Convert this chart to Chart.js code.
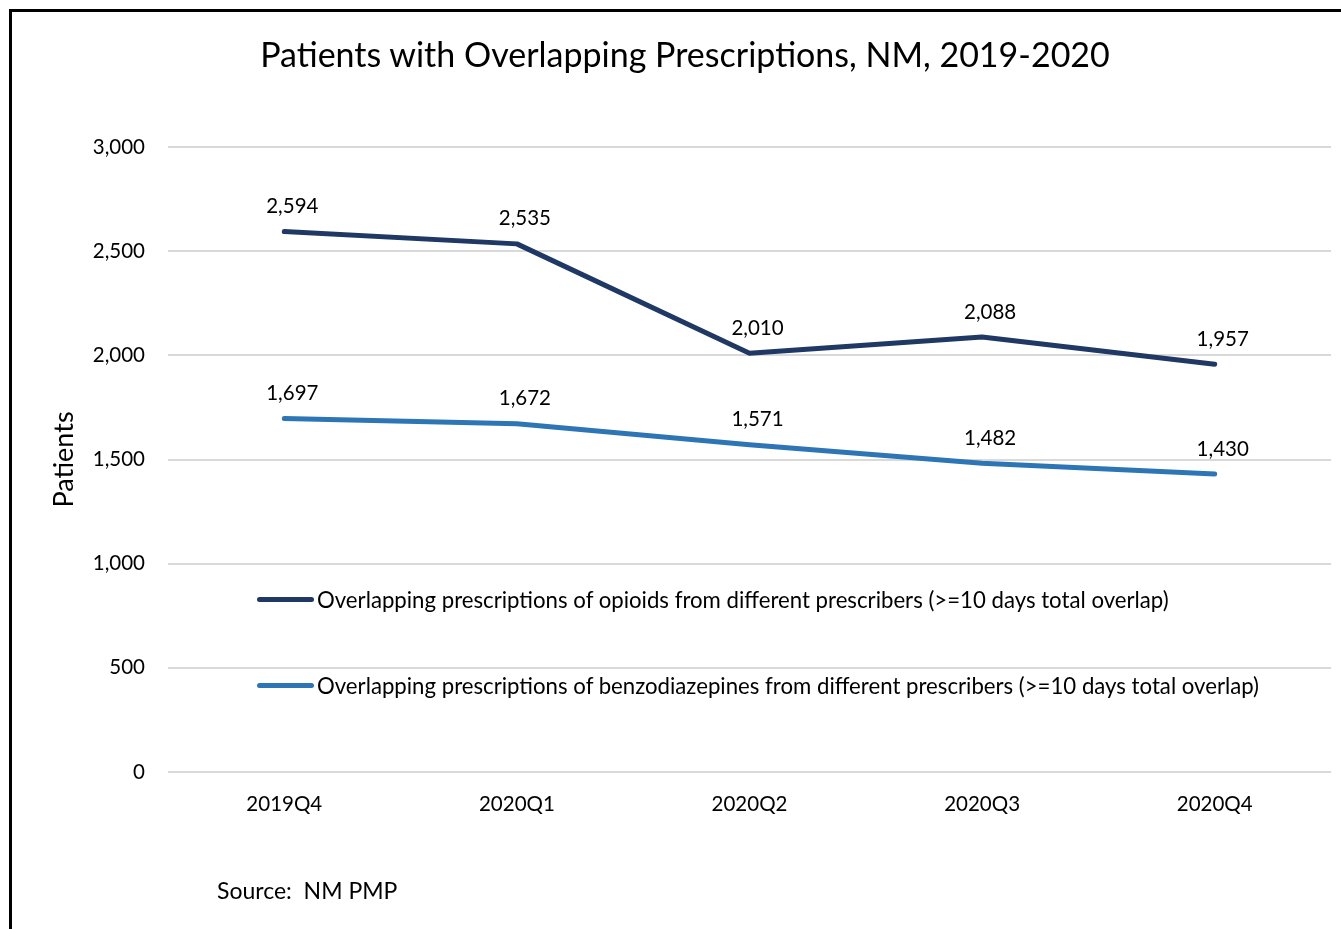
<!DOCTYPE html>
<html>
<head>
<meta charset="utf-8">
<script src="https://cdn.jsdelivr.net/npm/chart.js@4.4.0/dist/chart.umd.min.js"></script>
<style>
    html, body { margin:0; padding:0; background:#fff; }
    body { width:1341px; height:929px; position:relative; overflow:hidden;
           font-family: Lato, "Open Sans", sans-serif; color:#000; }
    #frame { position:absolute; left:9px; top:9px; width:1400px; height:1000px;
             border-left:3px solid #000; border-top:3px solid #000; }
    #wrap { position:absolute; left:0; top:0; width:1341px; height:929px; }
    #title { position:absolute; left:0; width:1370px; top:33px; text-align:center;
             font-size:34px; }
    .leg { position:absolute; left:257px; font-size:22.2px; display:flex; align-items:center; }
    .leg i { display:inline-block; width:57px; height:5px; border-radius:3px; margin-right:3px; }
    #source { position:absolute; left:217px; top:876px; font-size:23px; }
</style>
</head>
<body>
<div id="frame"></div>
<div id="wrap"><canvas id="c" width="1341" height="929"></canvas></div>
<div id="title">Patients with Overlapping Prescriptions, NM, 2019-2020</div>
<div id="legend"></div>
<div id="source">Source:&nbsp; NM PMP</div>
<script>
// ── Data ───────────────────────────────────────
const QUARTERS = ['2019Q4', '2020Q1', '2020Q2', '2020Q3', '2020Q4'];
const OPIOIDS  = [2594, 2535, 2010, 2088, 1957];
const BENZOS   = [1697, 1672, 1571, 1482, 1430];
const SERIES_LABELS = [
    'Overlapping prescriptions of opioids from different prescribers (>=10 days total overlap)',
    'Overlapping prescriptions of benzodiazepines from different prescribers (>=10 days total overlap)',
];
const COLORS = ['#203864', '#2E75B6'];
const FONT = 'Lato, "Open Sans", sans-serif';

const fmt = v => v.toLocaleString('en-US');

// value labels above each point
const valueLabels = {
    id: 'valueLabels',
    afterDatasetsDraw(chart) {
        const ctx = chart.ctx;
        ctx.save();
        ctx.font = `20.5px ${FONT}`;
        ctx.fillStyle = '#000';
        ctx.textAlign = 'center';
        ctx.textBaseline = 'middle';
        chart.data.datasets.forEach((ds, i) => {
            chart.getDatasetMeta(i).data.forEach((pt, j) => {
                ctx.fillText(fmt(ds.data[j]), pt.x + 8, pt.y - 25);
            });
        });
        ctx.restore();
    }
};

new Chart(document.getElementById('c'), {
    type: 'line',
    data: {
        labels: QUARTERS,
        datasets: [OPIOIDS, BENZOS].map((d, i) => ({
            label: SERIES_LABELS[i],
            data: d,
            borderColor: COLORS[i],
            backgroundColor: COLORS[i],
            borderWidth: 5,
            borderCapStyle: 'round',
            borderJoinStyle: 'round',
            pointRadius: 0,
            tension: 0,
        })),
    },
    options: {
        responsive: false,
        animation: false,
        layout: { padding: { left: 38, right: 10, top: 147, bottom: 107 } },
        plugins: {
            legend:  { display: false },
            tooltip: { enabled: false },
        },
        scales: {
            x: {
                offset: true,
                grid:   { display: false, drawTicks: false, offset: true },
                border: { display: false },
                ticks:  { color: '#000', padding: 20, font: { family: FONT, size: 20.5 } },
                afterFit: s => { s.height = 50; },
            },
            y: {
                min: 0, max: 3000,
                grid:   { color: '#d9d9d9', lineWidth: 2, drawTicks: false },
                border: { display: false },
                ticks:  { stepSize: 500, color: '#000', padding: 23,
                          font: { family: FONT, size: 20.5 }, callback: v => fmt(v) },
                title:  { display: true, text: 'Patients', color: '#000',
                          padding: { top: 10, bottom: 0 }, font: { family: FONT, size: 27 } },
                afterFit: s => { s.width = 130; },
            },
        },
    },
    plugins: [valueLabels],
});

// custom legend inside the plot area
document.getElementById('legend').innerHTML = SERIES_LABELS.map((t, i) => `
    <div class="leg" style="top:${586 + i * 86}px">
        <i style="background:${COLORS[i]}"></i><span>${t.replace(/>/g, '&gt;')}</span>
    </div>`).join('');
</script>
</body>
</html>
